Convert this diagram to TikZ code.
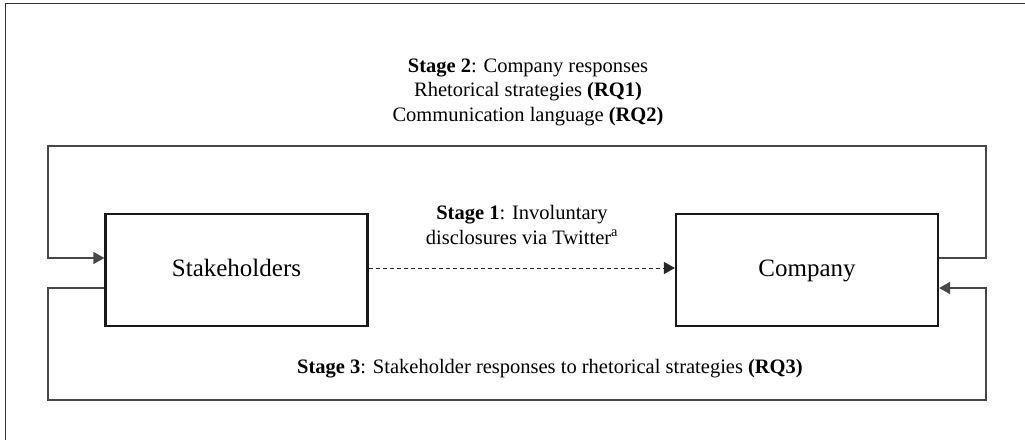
\documentclass[tikz,border=0pt]{standalone}
\usepackage{fontspec}
\setmainfont{Liberation Serif}
\usetikzlibrary{arrows.meta}
\begin{document}
\begin{tikzpicture}[x=1pt,y=-1pt,
  box/.style={draw=black!90,line width=2.2pt,minimum width=262pt,minimum height=112pt,inner sep=0pt,text height=17pt,text depth=5pt,font=\fontsize{25}{28}\selectfont},
  lbl/.style={align=center,font=\fontsize{20.5}{24.5}\selectfont},
  looppath/.style={draw=black!72,line width=1.3pt},
  tip/.style={-{Triangle[length=11pt,width=12pt]}},
  frameline/.style={draw=black!80,line width=1pt}]
\useasboundingbox (0,0) rectangle (1025,440);
\draw[frameline] (5,440) -- (5,3) -- (1025,3);
\node[box] (stk) at (236.5,270) {Stakeholders};
\node[box] (cmp) at (807,270) {Company};
\draw[looppath,tip] ([yshift=12pt]cmp.east) -| (986,146) -| (48,258) -- ([yshift=12pt]stk.west);
\draw[looppath,tip] ([yshift=-18pt]stk.west) -| (48,400) -| (986,288) -- ([yshift=-18pt]cmp.east);
\draw[draw=black!85,line width=1pt,dash pattern=on 4pt off 3pt,tip] ([yshift=2pt]stk.east) -- ([yshift=2pt]cmp.west);
\node[lbl] (s2) at (528,92) {\textbf{Stage 2}: Company responses\\Rhetorical strategies \textbf{(RQ1)}\\Communication language \textbf{(RQ2)}};
\node[lbl] (s1) at (522,225) {\textbf{Stage 1}: Involuntary\\disclosures via Twitter\textsuperscript{a}};
\node[lbl] (s3) at (550,369) {\textbf{Stage 3}: Stakeholder responses to rhetorical strategies \textbf{(RQ3)}};
\end{tikzpicture}
\end{document}
